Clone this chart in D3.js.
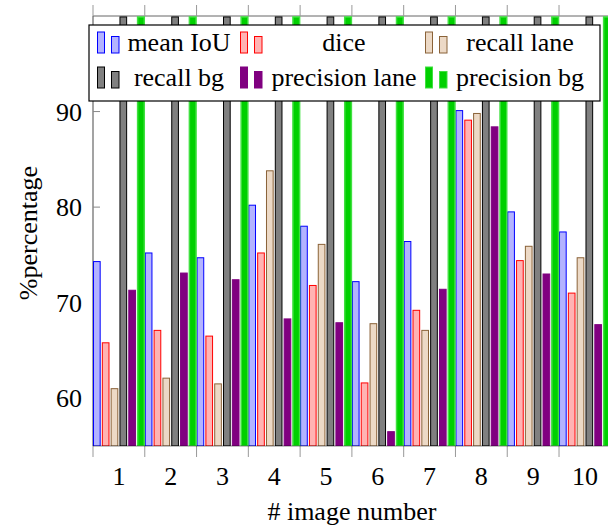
<!DOCTYPE html>
<html>
<head>
<meta charset="utf-8">
<script src="https://cdn.jsdelivr.net/npm/d3@7"></script>
<style>
  body { margin: 0; background: #fff; }
  text { font-family: "Liberation Serif", "DejaVu Serif", serif; fill: #000; }
</style>
</head>
<body>
<div id="chart"></div>
<script>
// categories and series
var groups = ["1", "2", "3", "4", "5", "6", "7", "8", "9", "10"];
var seriesNames = ["mean IoU", "dice", "recall lane", "recall bg", "precision lane", "precision bg"];
var meanIoU = [74.3, 75.2, 74.7, 80.2, 78.0, 72.2, 76.4, 90.1, 79.5, 77.4];
var dice = [65.8, 67.1, 66.5, 75.2, 71.8, 61.6, 69.2, 89.1, 74.4, 71.0];
var recallLane = [61.0, 62.1, 61.5, 83.8, 76.1, 67.8, 67.1, 89.8, 75.9, 74.7];
var recallBg = [99.9, 99.9, 99.9, 99.9, 99.9, 99.9, 99.9, 99.9, 99.9, 99.9];
var precisionLane = [71.3, 73.1, 72.4, 68.3, 67.9, 56.5, 71.4, 88.4, 73.0, 67.7];
var precisionBg = [99.9, 99.9, 99.9, 99.9, 99.9, 99.9, 99.9, 99.9, 99.9, 99.9];
var yTicks = [60, 70, 80, 90];

function drawChart() {
    var seriesValues = [meanIoU, dice, recallLane, recallBg, precisionLane, precisionBg];
    var fills = ["#b3b3ff", "#ffb3b3", "#ecd9c6", "#808080", "#800080", "#00d000"];
    var strokes = ["#0000ff", "#ff0000", "#8a6238", "#000000", "#800080", "#40e040"];

    var width = 608, height = 527;
    var pLeft = 93, pRight = 610.8, pTop = 16, pBottom = 446;
    var fs = 26;

    var svg = d3.select("#chart").append("svg")
        .attr("width", width)
        .attr("height", height);

    var x = d3.scaleBand().domain(groups).range([pLeft, pRight]).padding(0);
    var xs = d3.scaleBand().domain(seriesNames).range([0, x.bandwidth()])
        .paddingInner(0.13).paddingOuter(0);
    var y = d3.scaleLinear().domain([55, 100]).range([pBottom, pTop]);

    svg.append("clipPath").attr("id", "plotclip")
      .append("rect")
        .attr("x", pLeft).attr("y", pTop)
        .attr("width", pRight - pLeft).attr("height", pBottom - pTop);

    // frame lines
    svg.append("line").attr("x1", pLeft).attr("x2", pLeft).attr("y1", pTop).attr("y2", pBottom)
        .attr("stroke", "#666").attr("stroke-width", 1.2);
    svg.append("line").attr("x1", pLeft).attr("x2", pRight).attr("y1", pTop).attr("y2", pTop)
        .attr("stroke", "#666").attr("stroke-width", 1);

    // x ticks at the group boundaries (top and bottom, outside)
    var bounds = groups.map(g => x(g));
    svg.append("g").selectAll("line").data(bounds).join("line")
        .attr("x1", d => d).attr("x2", d => d)
        .attr("y1", pBottom).attr("y2", pBottom + 11)
        .attr("stroke", "#999").attr("stroke-width", 1);
    svg.append("g").selectAll("line").data(bounds).join("line")
        .attr("x1", d => d).attr("x2", d => d)
        .attr("y1", pTop - 11).attr("y2", pTop)
        .attr("stroke", "#999").attr("stroke-width", 1);

    // y ticks inside, left and right
    svg.append("g").selectAll("line").data(yTicks).join("line")
        .attr("x1", pLeft).attr("x2", pLeft + 7)
        .attr("y1", d => y(d)).attr("y2", d => y(d))
        .attr("stroke", "#888");
    svg.append("g").selectAll("line").data(yTicks).join("line")
        .attr("x1", pRight - 7).attr("x2", pRight)
        .attr("y1", d => y(d)).attr("y2", d => y(d))
        .attr("stroke", "#888");

    // bars
    var bars = svg.append("g").attr("clip-path", "url(#plotclip)");
    seriesNames.forEach(function (name, i) {
        bars.append("g")
            .selectAll("rect")
            .data(seriesValues[i])
            .join("rect")
            .attr("x", (d, j) => x(groups[j]) + xs(name) + 0.5)
            .attr("y", d => y(d))
            .attr("width", xs.bandwidth() - 1)
            .attr("height", d => pBottom - y(d))
            .attr("fill", fills[i])
            .attr("stroke", strokes[i])
            .attr("stroke-width", i == 5 ? 1.5 : 1);
    });

    svg.append("line").attr("x1", pLeft).attr("x2", pRight).attr("y1", pBottom).attr("y2", pBottom)
        .attr("stroke", "#000").attr("stroke-width", 0.8).attr("stroke-opacity", 0.6);

    // tick labels
    svg.append("g").selectAll("text").data(groups).join("text")
        .attr("x", d => x(d) + x.bandwidth() / 2)
        .attr("y", 485)
        .attr("text-anchor", "middle")
        .attr("font-size", fs)
        .text(d => d);

    svg.append("g").selectAll("text").data(yTicks).join("text")
        .attr("x", 82)
        .attr("y", d => y(d) + 9)
        .attr("text-anchor", "end")
        .attr("font-size", fs)
        .text(d => d);

    // axis titles
    svg.append("text")
        .attr("x", (pLeft + pRight) / 2)
        .attr("y", 520)
        .attr("text-anchor", "middle")
        .attr("font-size", fs)
        .text("# image number");

    svg.append("text")
        .attr("transform", "translate(37,233) rotate(-90)")
        .attr("text-anchor", "middle")
        .attr("font-size", fs)
        .text("%percentage");

    // legend
    var legend = svg.append("g");
    legend.append("rect")
        .attr("x", 89).attr("y", 25)
        .attr("width", 511).attr("height", 76)
        .attr("fill", "#fff").attr("stroke", "#000").attr("stroke-width", 1.2);

    var iconX = [97, 240, 425];
    var textX = [179, 344, 520];
    var rowY = [43, 78];
    seriesNames.forEach(function (name, i) {
        var col = i % 3, row = Math.floor(i / 3);
        var bx = iconX[col], by = rowY[row] + 10;
        var g = legend.append("g");
        g.append("rect")
            .attr("x", bx + 0.5).attr("y", by - 21)
            .attr("width", 7).attr("height", 21)
            .attr("fill", fills[i]).attr("stroke", strokes[i]);
        g.append("rect")
            .attr("x", bx + 14.5).attr("y", by - 16.5)
            .attr("width", 7.5).attr("height", 16.5)
            .attr("fill", fills[i]).attr("stroke", strokes[i]);
        g.append("text")
            .attr("x", textX[col])
            .attr("y", rowY[row] + 8)
            .attr("text-anchor", "middle")
            .attr("font-size", fs)
            .text(name);
    });
}

drawChart();
</script>
</body>
</html>
